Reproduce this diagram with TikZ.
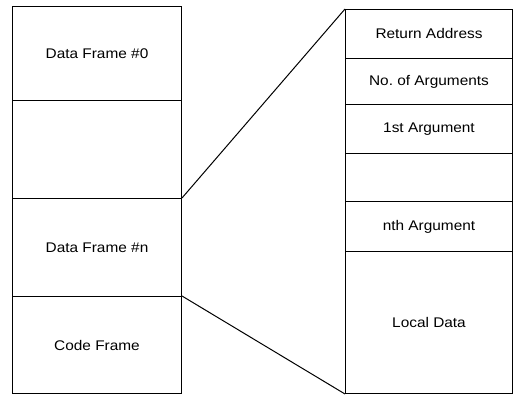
\documentclass[tikz,border=0pt]{standalone}
\usepackage{fontspec}
\setmainfont{Liberation Sans}[FakeStretch=1.1]
\begin{document}
\begin{tikzpicture}[x=1pt,y=1pt,
  frame/.style={draw,line width=1pt,inner sep=0pt,anchor=north west,
    font=\fontsize{14}{16}\selectfont,align=center},
  link/.style={line width=1pt}]
\useasboundingbox (0,0) rectangle (514,396);
% left column
\node[frame,minimum width=169pt,minimum height=94pt] (df0) at (12,390) {Data Frame \#0};
\node[frame,minimum width=169pt,minimum height=98pt] (gap) at (12,296) {};
\node[frame,minimum width=169pt,minimum height=98pt] (dfn) at (12,198) {Data Frame \#n};
\node[frame,minimum width=169pt,minimum height=97pt] (cf) at (12,100) {Code Frame};
% right column
\node[frame,minimum width=167pt,minimum height=49pt] (ra) at (345,387) {Return Address};
\node[frame,minimum width=167pt,minimum height=46pt] (na) at (345,338) {No.\ of Arguments};
\node[frame,minimum width=167pt,minimum height=49pt] (fa) at (345,292) {1st Argument};
\node[frame,minimum width=167pt,minimum height=48pt] (gap2) at (345,243) {};
\node[frame,minimum width=167pt,minimum height=50pt] (nth) at (345,195) {nth Argument};
\node[frame,minimum width=167pt,minimum height=142pt] (ld) at (345,145) {Local Data};
% connectors
\draw[link] (dfn.north east) -- (ra.north west);
\draw[link] (cf.north east) -- (ld.south west);
\end{tikzpicture}
\end{document}
